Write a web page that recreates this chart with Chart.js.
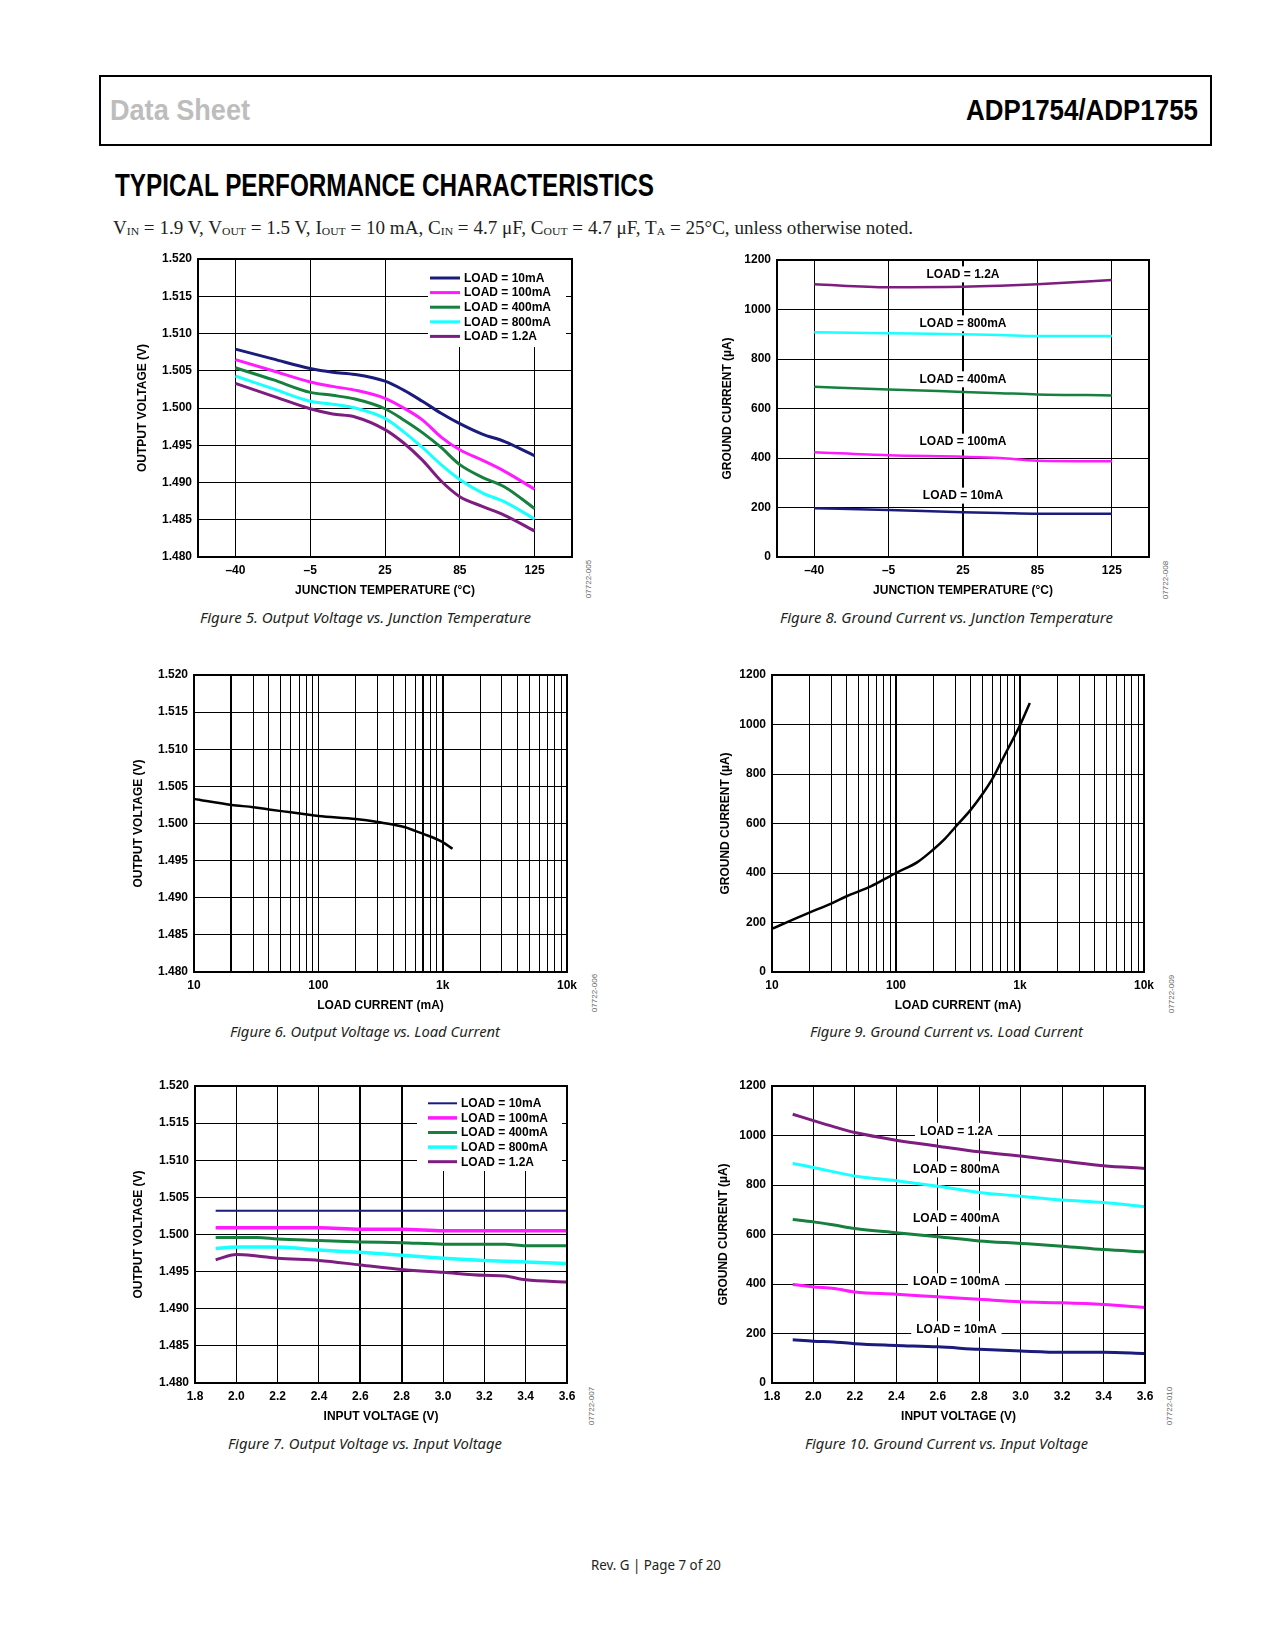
<!DOCTYPE html>
<html>
<head>
<meta charset="utf-8">
<title>ADP1754/ADP1755 - Typical Performance Characteristics</title>
<script src="https://cdn.jsdelivr.net/npm/chart.js@4.4.1/dist/chart.umd.min.js"></script>
<style>
  html, body { margin: 0; padding: 0; background: #fff; }
  body { position: relative; width: 1275px; height: 1650px; overflow: hidden; }
  .t { position: absolute; white-space: nowrap; line-height: 1; transform-origin: 0 0; }
  .hd { font-family: "Liberation Sans Narrow", "Liberation Sans", Arial, sans-serif; font-weight: bold; }
  .cap { font-family: "Noto Sans", "Open Sans", sans-serif; font-style: italic; font-size: 15px; color: #231f20; }
  .cond { font-family: "Liberation Serif", "DejaVu Serif", serif; font-size: 18px; color: #231f20; }
  .cond sub { font-size: 11px; vertical-align: baseline; position: relative; top: 1px; }
  .id { position: absolute; font-family: "Liberation Sans", Arial, sans-serif; font-size: 8px; color: #666;
        line-height: 1; white-space: nowrap; transform: translate(-50%, -50%) rotate(-90deg); }
  canvas { position: absolute; }
</style>
</head>
<body>
<div style="position:absolute;left:99px;top:75px;width:1113px;height:71px;border:2px solid #000;box-sizing:border-box"></div>
<span class="t hd" data-w="140" style="left:110px;top:94.6px;font-size:30px;color:#bdbdbd">Data Sheet</span>
<span class="t hd" data-w="232" style="left:966px;top:94.6px;font-size:30px;color:#000">ADP1754/ADP1755</span>
<span class="t hd" data-w="539" style="left:115px;top:170px;font-size:31.5px;color:#000">TYPICAL PERFORMANCE CHARACTERISTICS</span>
<span class="t cond" data-w="800" style="left:113px;top:219px">V<sub>IN</sub> = 1.9 V, V<sub>OUT</sub> = 1.5 V, I<sub>OUT</sub> = 10 mA, C<sub>IN</sub> = 4.7 μF, C<sub>OUT</sub> = 4.7 μF, T<sub>A</sub> = 25°C, unless otherwise noted.</span>

<span class="t cap" data-w="331" style="left:200px;top:610px">Figure 5. Output Voltage vs. Junction Temperature</span>
<span class="t cap" data-w="333" style="left:780px;top:610px">Figure 8. Ground Current vs. Junction Temperature</span>
<span class="t cap" data-w="270" style="left:230px;top:1024px">Figure 6. Output Voltage vs. Load Current</span>
<span class="t cap" data-w="273" style="left:810px;top:1024px">Figure 9. Ground Current vs. Load Current</span>
<span class="t cap" data-w="274" style="left:228px;top:1436px">Figure 7. Output Voltage vs. Input Voltage</span>
<span class="t cap" data-w="283" style="left:805px;top:1436px">Figure 10. Ground Current vs. Input Voltage</span>

<div class="id" style="left:589px;top:579px">07722-005</div>
<div class="id" style="left:1166px;top:580px">07722-008</div>
<div class="id" style="left:595px;top:993px">07722-006</div>
<div class="id" style="left:1172px;top:994px">07722-009</div>
<div class="id" style="left:592px;top:1406px">07722-007</div>
<div class="id" style="left:1170px;top:1406px">07722-010</div>

<span class="t cap" data-w="130" style="left:591px;top:1557px;font-style:normal">Rev. G | Page 7 of 20</span>

<script>
// ---- data ----
const loadNames = ['LOAD = 10mA', 'LOAD = 100mA', 'LOAD = 400mA', 'LOAD = 800mA', 'LOAD = 1.2A'];
const loadColors = ['#1b1b7d', '#ff1aff', '#16803f', '#1affff', '#7e1d80'];

const voutTicks = [1.480, 1.485, 1.490, 1.495, 1.500, 1.505, 1.510, 1.515, 1.520];
const igndTicks = [0, 200, 400, 600, 800, 1000, 1200];
const vinTicks = [1.8, 2.0, 2.2, 2.4, 2.6, 2.8, 3.0, 3.2, 3.4, 3.6];
const tempTicks = ['–40', '–5', '25', '85', '125'];
const loadTicks = [10, 20, 30, 40, 50, 60, 70, 80, 90,
                   100, 200, 300, 400, 500, 600, 700, 800, 900,
                   1000, 2000, 3000, 4000, 5000, 6000, 7000, 8000, 9000, 10000];
const loadTickText = { 10: '10', 100: '100', 1000: '1k', 10000: '10k' };

// Figure 5: x is the tick slot (0 = -40°C, 1 = -5°C, 2 = 25°C, 3 = 85°C, 4 = 125°C)
const f5Slot = [0, 0.5, 1, 1.3, 1.6, 2, 2.25, 2.5, 2.75, 3, 3.3, 3.6, 4];
const f5Vout10m = [1.5079, 1.5066, 1.5053, 1.5048, 1.5045, 1.5036, 1.5024, 1.5009, 1.4993, 1.4979, 1.4965, 1.4955, 1.4936];
const f5Vout100m = [1.5065, 1.5050, 1.5035, 1.5029, 1.5024, 1.5013, 1.5000, 1.4984, 1.4961, 1.4944, 1.4930, 1.4915, 1.4891];
const f5Vout400m = [1.5054, 1.5038, 1.5021, 1.5017, 1.5012, 1.4999, 1.4984, 1.4967, 1.4947, 1.4924, 1.4907, 1.4894, 1.4865];
const f5Vout800m = [1.5043, 1.5026, 1.5009, 1.5005, 1.5000, 1.4986, 1.4968, 1.4947, 1.4924, 1.4904, 1.4886, 1.4874, 1.4851];
const f5Vout1A2 = [1.5033, 1.5016, 1.4999, 1.4992, 1.4988, 1.4971, 1.4953, 1.4930, 1.4902, 1.4881, 1.4868, 1.4856, 1.4835];

// Figure 8
const f8Slot = [0, 1, 2, 2.5, 3, 4];
const f8Ignd10m = [197, 190, 181, 178, 175, 175];
const f8Ignd100m = [423, 411, 405, 400, 389, 387];
const f8Ignd400m = [688, 677, 667, 662, 657, 653];
const f8Ignd800m = [908, 904, 900, 897, 893, 893];
const f8Ignd1A2 = [1102, 1090, 1092, 1096, 1102, 1119];

// Figure 6
const f6Load = [10, 20, 30, 40, 60, 90, 100, 200, 300, 500, 600, 700, 1000, 1200];
const f6Vout = [1.5033, 1.5025, 1.5022, 1.5019, 1.5015, 1.5011, 1.5010, 1.5006, 1.5002, 1.4995, 1.4990, 1.4986, 1.4975, 1.4966];

// Figure 9
const f9Load = [10, 20, 30, 40, 60, 80, 100, 150, 200, 250, 300, 400, 500, 600, 700, 800, 1000, 1200];
const f9Ignd = [175, 240, 276, 306, 342, 374, 400, 445, 495, 540, 585, 655, 720, 781, 846, 902, 997, 1087];

// Figure 7
const f7Vin = [1.9, 2.0, 2.1, 2.2, 2.4, 2.6, 2.8, 3.0, 3.2, 3.3, 3.4, 3.6];
const f7Vout10m = [1.5032, 1.5032, 1.5032, 1.5032, 1.5032, 1.5032, 1.5032, 1.5032, 1.5032, 1.5032, 1.5032, 1.5032];
const f7Vout100m = [1.5009, 1.5009, 1.5009, 1.5009, 1.5009, 1.5007, 1.5007, 1.5005, 1.5005, 1.5005, 1.5005, 1.5005];
const f7Vout400m = [1.4996, 1.4996, 1.4996, 1.4994, 1.4992, 1.4990, 1.4989, 1.4987, 1.4987, 1.4987, 1.4985, 1.4985];
const f7Vout800m = [1.4981, 1.4983, 1.4983, 1.4983, 1.4979, 1.4976, 1.4972, 1.4968, 1.4965, 1.4964, 1.4963, 1.4961];
const f7Vout1A2 = [1.4966, 1.4973, 1.4971, 1.4968, 1.4965, 1.4959, 1.4953, 1.4949, 1.4945, 1.4944, 1.4939, 1.4936];

// Figure 10
const f10Vin = [1.9, 2.0, 2.1, 2.2, 2.4, 2.6, 2.8, 3.0, 3.2, 3.4, 3.6];
const f10Ignd10m = [175, 169, 166, 159, 152, 146, 136, 129, 124, 124, 119];
const f10Ignd100m = [398, 388, 382, 368, 359, 348, 338, 328, 324, 317, 305];
const f10Ignd400m = [661, 651, 638, 624, 607, 591, 574, 564, 553, 539, 530];
const f10Ignd800m = [887, 871, 853, 836, 817, 795, 770, 755, 739, 729, 712];
const f10Ignd1A2 = [1086, 1060, 1035, 1012, 981, 957, 934, 917, 897, 878, 867];

// ---- drawing ----
const FONT = "'Liberation Sans', Arial, Helvetica, sans-serif";
const BOLD12 = { family: FONT, size: 12, weight: 'bold' };

function series(label, xs, ys, color, width) {
    return {
        label: label,
        data: xs.map((x, i) => ({ x: x, y: ys[i] })),
        borderColor: color,
        borderWidth: width,
        pointRadius: 0,
        fill: false,
        cubicInterpolationMode: 'monotone'
    };
}

const framePlugin = {
    id: 'frame',
    afterDatasetsDraw(chart) {
        const a = chart.chartArea, ctx = chart.ctx;
        ctx.save();
        ctx.strokeStyle = '#000';
        ctx.lineWidth = 2;
        ctx.strokeRect(a.left, a.top, a.right - a.left, a.bottom - a.top);
        ctx.restore();
    }
};

// white legend box inside the plot, top right
const loadBoxPlugin = {
    id: 'loadBox',
    beforeDatasetsDraw(chart, args, o) {
        if (!o || !o.width) return;
        const a = chart.chartArea, ctx = chart.ctx;
        const x0 = a.right - o.right - o.width, y0 = a.top;
        ctx.save();
        ctx.fillStyle = '#fff';
        ctx.fillRect(x0, y0 + 1, o.width, o.height - 1);
        ctx.font = 'bold 12px ' + FONT;
        ctx.textBaseline = 'middle';
        chart.data.datasets.forEach((ds, i) => {
            const y = y0 + o.first + i * o.gap;
            ctx.strokeStyle = ds.borderColor;
            ctx.lineWidth = ds.borderWidth;
            ctx.beginPath();
            ctx.moveTo(x0 + o.lineStart, y);
            ctx.lineTo(x0 + o.lineStart + o.lineLen, y);
            ctx.stroke();
            ctx.fillStyle = '#000';
            ctx.fillText(ds.label, x0 + o.textStart, y + 0.5);
        });
        ctx.restore();
    }
};

// "LOAD = ..." tags with white background, placed in data units
const loadTagPlugin = {
    id: 'loadTags',
    beforeDatasetsDraw(chart, args, o) {
        if (!o || !o.texts) return;
        const sx = chart.scales.x, sy = chart.scales.y, ctx = chart.ctx;
        ctx.save();
        ctx.font = 'bold 12px ' + FONT;
        ctx.textAlign = 'center';
        ctx.textBaseline = 'middle';
        o.texts.forEach((t, i) => {
            const px = sx.getPixelForValue(o.x), py = sy.getPixelForValue(o.ys[i]);
            const w = ctx.measureText(t).width + 2 * o.pad;
            ctx.fillStyle = '#fff';
            ctx.fillRect(px - w / 2, py - 8, w, 16);
            ctx.fillStyle = '#000';
            ctx.fillText(t, px, py + 0.5);
        });
        ctx.restore();
    }
};

function makeChart(spec) {
    const [pl, pt, pr, pb] = spec.plot;
    const yw = Math.round(pl - spec.yTitleX + 7.2);
    const xh = Math.round(spec.xTitleY + 7.2 - pb);
    const padTop = 12, padRight = 18;
    const left = pl - yw, top = pt - padTop;
    const cv = document.createElement('canvas');
    cv.width = pr + padRight - left;
    cv.height = pb + xh - top;
    cv.style.left = left + 'px';
    cv.style.top = top + 'px';
    document.body.appendChild(cv);

    const thick = spec.thick || [];
    const noPad = s => { s.paddingLeft = 0; s.paddingRight = 0; s.paddingTop = 0; s.paddingBottom = 0; };
    const grid = {
        color: '#000',
        drawTicks: false,
        lineWidth: c => (c.tick && thick.includes(c.tick.value)) ? 2 : 1
    };

    return new Chart(cv, {
        type: 'line',
        data: { datasets: spec.datasets },
        options: {
            responsive: false,
            animation: false,
            events: [],
            layout: { padding: { top: padTop, right: padRight, left: 0, bottom: 0 } },
            plugins: {
                legend: { display: false },
                tooltip: { enabled: false },
                loadBox: spec.box || {},
                loadTags: spec.tags || {}
            },
            scales: {
                x: {
                    type: spec.xType,
                    position: 'bottom',
                    min: spec.xMin,
                    max: spec.xMax,
                    afterBuildTicks: s => { s.ticks = spec.xTicks.map(v => ({ value: v })); },
                    afterFit: s => { s.height = xh; noPad(s); },
                    grid: grid,
                    border: { display: false },
                    ticks: { padding: 6, autoSkip: false, maxRotation: 0, minRotation: 0,
                             color: '#000', font: BOLD12, callback: spec.xLabel },
                    title: { display: true, text: spec.xTitle, padding: 0, color: '#000', font: BOLD12 }
                },
                y: {
                    type: 'linear',
                    position: 'left',
                    min: spec.yTicks[0],
                    max: spec.yTicks[spec.yTicks.length - 1],
                    afterBuildTicks: s => { s.ticks = spec.yTicks.map(v => ({ value: v })); },
                    afterFit: s => { s.width = yw; noPad(s); },
                    grid: { color: '#000', drawTicks: false, lineWidth: 1 },
                    border: { display: false },
                    ticks: { padding: 6, autoSkip: false, color: '#000', font: BOLD12, callback: spec.yLabel },
                    title: { display: true, text: spec.yTitle, padding: 0, color: '#000', font: BOLD12 }
                }
            }
        },
        plugins: [loadBoxPlugin, loadTagPlugin, framePlugin]
    });
}

const slotLabel = v => tempTicks[v];
const voutLabel = v => v.toFixed(3);
const igndLabel = v => String(v);
const vinLabel = v => v.toFixed(1);
const loadLabel = v => loadTickText[v] || '';

// Figure 5
makeChart({
    plot: [198, 259, 572, 557], yTitleX: 142, xTitleY: 591,
    xType: 'linear', xMin: -0.5, xMax: 4.5, xTicks: [0, 1, 2, 3, 4], xLabel: slotLabel,
    xTitle: 'JUNCTION TEMPERATURE (°C)',
    yTicks: voutTicks, yLabel: voutLabel, yTitle: 'OUTPUT VOLTAGE (V)',
    box: { width: 138, height: 88, right: 6, first: 19, gap: 14.6, lineStart: 2, lineLen: 30, textStart: 36 },
    datasets: [
        series(loadNames[0], f5Slot, f5Vout10m, loadColors[0], 3),
        series(loadNames[1], f5Slot, f5Vout100m, loadColors[1], 3),
        series(loadNames[2], f5Slot, f5Vout400m, loadColors[2], 3),
        series(loadNames[3], f5Slot, f5Vout800m, loadColors[3], 3),
        series(loadNames[4], f5Slot, f5Vout1A2, loadColors[4], 3)
    ]
});

// Figure 8
makeChart({
    plot: [777, 260, 1149, 557], yTitleX: 727, xTitleY: 591,
    xType: 'linear', xMin: -0.5, xMax: 4.5, xTicks: [0, 1, 2, 3, 4], xLabel: slotLabel, thick: [2],
    xTitle: 'JUNCTION TEMPERATURE (°C)',
    yTicks: igndTicks, yLabel: igndLabel, yTitle: 'GROUND CURRENT (µA)',
    tags: { x: 2, ys: [1142, 944, 718, 466, 248], pad: 5,
            texts: [loadNames[4], loadNames[3], loadNames[2], loadNames[1], loadNames[0]] },
    datasets: [
        series(loadNames[0], f8Slot, f8Ignd10m, loadColors[0], 2.5),
        series(loadNames[1], f8Slot, f8Ignd100m, loadColors[1], 2.5),
        series(loadNames[2], f8Slot, f8Ignd400m, loadColors[2], 2.5),
        series(loadNames[3], f8Slot, f8Ignd800m, loadColors[3], 2.5),
        series(loadNames[4], f8Slot, f8Ignd1A2, loadColors[4], 2.5)
    ]
});

// Figure 6
makeChart({
    plot: [194, 675, 567, 972], yTitleX: 138, xTitleY: 1006,
    xType: 'logarithmic', xMin: 10, xMax: 10000, xTicks: loadTicks, xLabel: loadLabel, thick: [20, 700, 1000],
    xTitle: 'LOAD CURRENT (mA)',
    yTicks: voutTicks, yLabel: voutLabel, yTitle: 'OUTPUT VOLTAGE (V)',
    datasets: [series('VOUT', f6Load, f6Vout, '#000', 2.5)]
});

// Figure 9
makeChart({
    plot: [772, 675, 1144, 972], yTitleX: 725, xTitleY: 1006,
    xType: 'logarithmic', xMin: 10, xMax: 10000, xTicks: loadTicks, xLabel: loadLabel, thick: [100, 1000],
    xTitle: 'LOAD CURRENT (mA)',
    yTicks: igndTicks, yLabel: igndLabel, yTitle: 'GROUND CURRENT (µA)',
    datasets: [series('IGND', f9Load, f9Ignd, '#000', 2.5)]
});

// Figure 7
makeChart({
    plot: [195, 1086, 567, 1383], yTitleX: 138, xTitleY: 1417,
    xType: 'linear', xMin: 1.8, xMax: 3.6, xTicks: vinTicks, xLabel: vinLabel, thick: [2.6, 2.8],
    xTitle: 'INPUT VOLTAGE (V)',
    yTicks: voutTicks, yLabel: voutLabel, yTitle: 'OUTPUT VOLTAGE (V)',
    box: { width: 145, height: 85, right: 5, first: 17.3, gap: 14.6, lineStart: 11, lineLen: 29, textStart: 44 },
    datasets: [
        series(loadNames[0], f7Vin, f7Vout10m, loadColors[0], 2),
        series(loadNames[1], f7Vin, f7Vout100m, loadColors[1], 3.5),
        series(loadNames[2], f7Vin, f7Vout400m, loadColors[2], 3),
        series(loadNames[3], f7Vin, f7Vout800m, loadColors[3], 3.5),
        series(loadNames[4], f7Vin, f7Vout1A2, loadColors[4], 3)
    ]
});

// Figure 10
makeChart({
    plot: [772, 1086, 1145, 1383], yTitleX: 723, xTitleY: 1417,
    xType: 'linear', xMin: 1.8, xMax: 3.6, xTicks: vinTicks, xLabel: vinLabel,
    xTitle: 'INPUT VOLTAGE (V)',
    yTicks: igndTicks, yLabel: igndLabel, yTitle: 'GROUND CURRENT (µA)',
    tags: { x: 2.69, ys: [1019, 863, 665, 411, 217], pad: 5,
            texts: [loadNames[4], loadNames[3], loadNames[2], loadNames[1], loadNames[0]] },
    datasets: [
        series(loadNames[0], f10Vin, f10Ignd10m, loadColors[0], 3),
        series(loadNames[1], f10Vin, f10Ignd100m, loadColors[1], 3),
        series(loadNames[2], f10Vin, f10Ignd400m, loadColors[2], 3),
        series(loadNames[3], f10Vin, f10Ignd800m, loadColors[3], 3),
        series(loadNames[4], f10Vin, f10Ignd1A2, loadColors[4], 3)
    ]
});

// squeeze page texts to the widths measured on the reference
function fitTexts() {
    document.querySelectorAll('[data-w]').forEach(el => {
        el.style.transform = 'none';
        const w = el.getBoundingClientRect().width;
        if (w > 0) el.style.transform = 'scaleX(' + (el.dataset.w / w) + ')';
    });
}
fitTexts();
if (document.fonts && document.fonts.ready) document.fonts.ready.then(fitTexts);
</script>
</body>
</html>
